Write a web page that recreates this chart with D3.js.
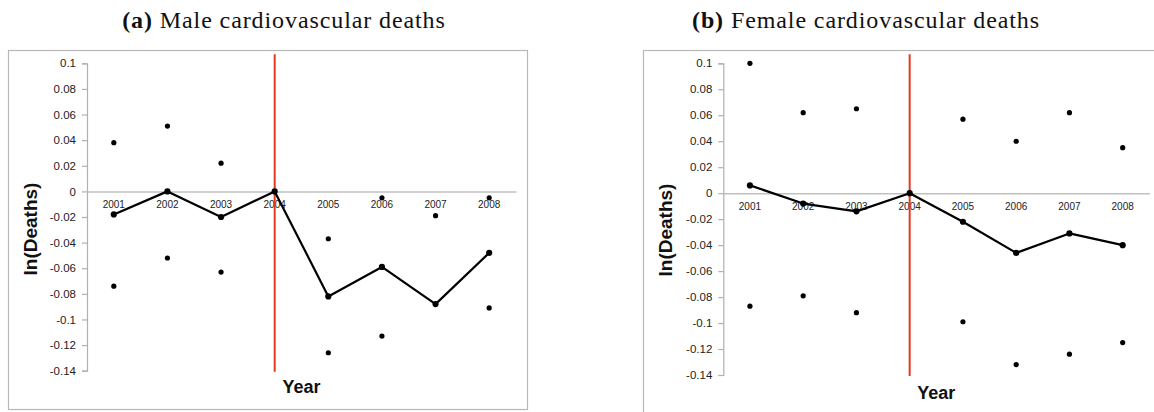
<!DOCTYPE html>
<html>
<head>
<meta charset="utf-8">
<script src="https://cdn.jsdelivr.net/npm/d3@7"></script>
<style>
  html, body { margin: 0; padding: 0; background: #fff; }
  svg { display: block; }
</style>
</head>
<body>
<svg id="chart" width="1154" height="412"></svg>
<script>
// Years on the horizontal axis
const years = ["2001", "2002", "2003", "2004", "2005", "2006", "2007", "2008"];
// Reference year marked by the vertical line
const policyYear = "2004";
// Y axis tick values
const yTicks = [0.1, 0.08, 0.06, 0.04, 0.02, 0, -0.02, -0.04, -0.06, -0.08, -0.1, -0.12, -0.14];

// Male: point estimates and confidence bounds (null = not drawn)
const maleEstimate = [-0.018, 0.0, -0.020, 0.0, -0.082, -0.059, -0.088, -0.048];
const maleUpper    = [0.038, 0.051, 0.022, null, -0.037, -0.005, -0.019, -0.005];
const maleLower    = [-0.074, -0.052, -0.063, null, -0.126, -0.113, null, -0.091];

// Female: point estimates and confidence bounds
const femaleEstimate = [0.006, -0.008, -0.014, 0.0, -0.022, -0.046, -0.031, -0.040];
const femaleUpper    = [0.100, 0.062, 0.065, null, 0.057, 0.040, 0.062, 0.035];
const femaleLower    = [-0.087, -0.079, -0.092, null, -0.099, -0.132, -0.124, -0.115];

const svg = d3.select("#chart");
const bodyFont = "'Liberation Sans', Arial, sans-serif";
const titleFont = "'Liberation Serif', 'DejaVu Serif', serif";

function drawPanel(cfg) {
  const g = svg.append("g");

  // Caption above the panel
  const title = g.append("text")
    .attr("x", cfg.titleX).attr("y", 28)
    .attr("text-anchor", "middle")
    .attr("font-family", titleFont)
    .attr("font-size", 24)
    .attr("letter-spacing", 0.9)
    .attr("fill", "#111");
  title.append("tspan").attr("font-weight", "bold").text(cfg.tag);
  title.append("tspan").text(" " + cfg.title);

  // Chart frame
  g.append("rect")
    .attr("x", cfg.frame[0] + 0.5).attr("y", cfg.frame[1] + 0.5)
    .attr("width", cfg.frame[2]).attr("height", cfg.frame[3])
    .attr("fill", "none").attr("stroke", "#b8b8b8").attr("stroke-width", 1.2);

  const x = d3.scaleBand().domain(years).range([cfg.x0, cfg.x1]);
  const y = d3.scaleLinear().domain([-0.14, 0.1]).range([cfg.yBottom, cfg.yTop]);
  const cx = d => x(d) + x.bandwidth() / 2;

  // Y axis
  const yAxis = d3.axisLeft(y)
    .tickValues(yTicks)
    .tickSize(5)
    .tickPadding(6)
    .tickFormat(d => String(+d.toFixed(2)));
  const ya = g.append("g")
    .attr("transform", `translate(${cfg.x0},0)`)
    .call(yAxis);
  ya.select(".domain").attr("stroke", "#b0b0b0").attr("stroke-width", 1.2);
  ya.selectAll(".tick line").attr("stroke", "#b0b0b0").attr("stroke-width", 1.2);
  ya.selectAll(".tick text")
    .attr("font-family", bodyFont).attr("font-size", 11.5).attr("fill", "#222");

  // Zero line with year labels beneath it
  const xa = g.append("g")
    .attr("transform", `translate(0,${y(0)})`)
    .call(d3.axisBottom(x).tickSize(0).tickPadding(10));
  xa.select(".domain").attr("stroke", "#c0c0c0").attr("stroke-width", 1.5);
  xa.selectAll(".tick text")
    .attr("font-family", bodyFont).attr("font-size", 10).attr("fill", "#222");

  // Reference year marker
  g.append("line")
    .attr("x1", cx(policyYear)).attr("x2", cx(policyYear))
    .attr("y1", cfg.yTop - 9).attr("y2", cfg.yBottom + 1)
    .attr("stroke", "#e33a22").attr("stroke-width", 2);

  // Confidence bounds as dots
  const bounds = [];
  years.forEach((yr, i) => {
    if (cfg.upper[i] !== null) bounds.push({ yr, v: cfg.upper[i] });
    if (cfg.lower[i] !== null) bounds.push({ yr, v: cfg.lower[i] });
  });
  g.selectAll("circle.bound").data(bounds).join("circle")
    .attr("class", "bound")
    .attr("cx", d => cx(d.yr)).attr("cy", d => y(d.v))
    .attr("r", 2.6).attr("fill", "#000");

  // Point estimates joined by a line
  const pts = years.map((yr, i) => ({ yr, v: cfg.estimate[i] }));
  g.append("path")
    .datum(pts)
    .attr("fill", "none").attr("stroke", "#000").attr("stroke-width", 2.2)
    .attr("stroke-linejoin", "round")
    .attr("d", d3.line().x(d => cx(d.yr)).y(d => y(d.v)));
  g.selectAll("circle.est").data(pts).join("circle")
    .attr("class", "est")
    .attr("cx", d => cx(d.yr)).attr("cy", d => y(d.v))
    .attr("r", 3.1).attr("fill", "#000");

  // Axis titles
  g.append("text")
    .attr("transform", `translate(${cfg.yLabelX},${cfg.yLabelY}) rotate(-90)`)
    .attr("text-anchor", "middle")
    .attr("font-family", bodyFont).attr("font-weight", "bold")
    .attr("font-size", 19).attr("fill", "#111")
    .text("ln(Deaths)");
  g.append("text")
    .attr("x", (cfg.x0 + cfg.x1) / 2).attr("y", cfg.xLabelY)
    .attr("text-anchor", "middle")
    .attr("font-family", bodyFont).attr("font-weight", "bold")
    .attr("font-size", 18).attr("fill", "#111")
    .text("Year");
}

drawPanel({
  tag: "(a)", title: "Male cardiovascular deaths", titleX: 284,
  frame: [8, 50, 519, 359],
  x0: 87, x1: 516, yTop: 63.3, yBottom: 370.7,
  yLabelX: 37, yLabelY: 229, xLabelY: 393,
  estimate: maleEstimate, upper: maleUpper, lower: maleLower
});

drawPanel({
  tag: "(b)", title: "Female cardiovascular deaths", titleX: 866,
  frame: [643, 50, 530, 380],
  x0: 723.3, x1: 1149.3, yTop: 63.3, yBottom: 375,
  yLabelX: 672, yLabelY: 230, xLabelY: 399,
  estimate: femaleEstimate, upper: femaleUpper, lower: femaleLower
});
</script>
</body>
</html>
